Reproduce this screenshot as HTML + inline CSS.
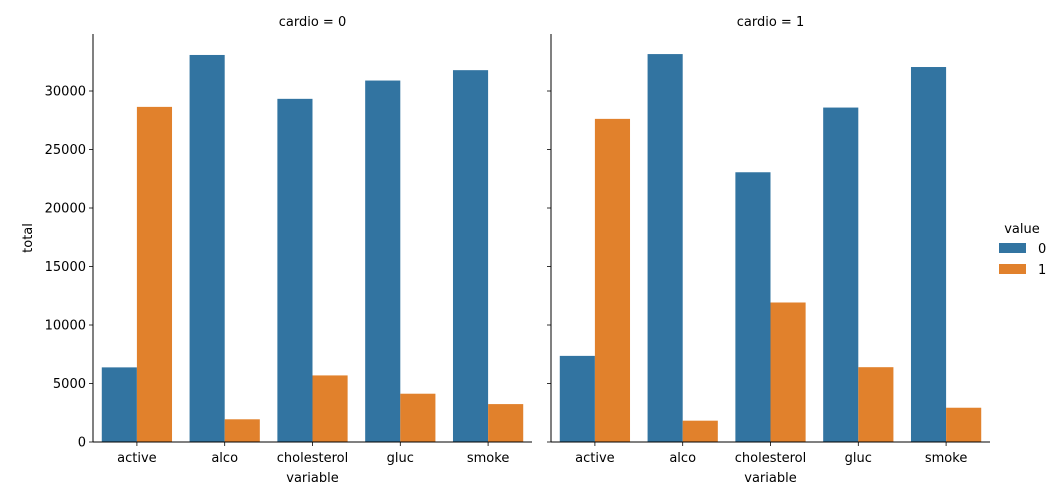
<!DOCTYPE html>
<html><head><meta charset="utf-8"><style>
body{margin:0;background:#fff}
svg{display:block;font-family:"DejaVu Sans","Liberation Sans",sans-serif}
</style></head><body>
<svg id="chart" width="1058" height="500"></svg>
<script>
const categories = ["active","alco","cholesterol","gluc","smoke"];
const panels = ["cardio = 0","cardio = 1"];
const values0_c0 = [6378,33080,29330,30894,31781];
const values1_c0 = [28643,1941,5691,4127,3240];
const values0_c1 = [7361,33156,23055,28585,32050];
const values1_c1 = [27618,1823,11924,6394,2929];
const yTicks = [0,5000,10000,15000,20000,25000,30000];
const legendLabels = ["0","1"];
const colors = ["#3274a1","#e1812c"];

const NS="http://www.w3.org/2000/svg";
const svg=document.getElementById('chart');
function mk(tag,attrs,parent){const e=document.createElementNS(NS,tag);for(const k in attrs)e.setAttribute(k,attrs[k]);(parent||svg).appendChild(e);return e;}
const yTop=34,yBot=442,yMax=34872;
function y(v){return yBot-(v/yMax)*(yBot-yTop);}
const panelX=[93,551],panelW=439;
const series=[[values0_c0,values1_c0],[values0_c1,values1_c1]];
panels.forEach((title,p)=>{
  const x0=panelX[p];
  const g=mk('g',{});
  
  
  const band=panelW/categories.length, bw=band*0.4;
  categories.forEach((c,i)=>{
    const cx=x0+band*(i+0.5);
    [0,1].forEach(s=>{
      const v=series[p][s][i];
      const r=mk('rect',{x:cx-bw+s*bw,y:y(v),width:bw,height:yBot-y(v),fill:colors[s]},g);
      
      
    });
    mk('line',{x1:cx,x2:cx,y1:yBot,y2:yBot+4,stroke:'#000','stroke-width':0.8},g);
    const t=mk('text',{x:cx,y:yBot+20,'text-anchor':'middle','font-size':13},g);
    t.textContent=c;
    
    
  });
  yTicks.forEach(v=>{
    mk('line',{x1:x0-4,x2:x0,y1:y(v),y2:y(v),stroke:'#000','stroke-width':0.8},g);
    if(p===0){
      const t=mk('text',{x:x0-7,y:y(v)+4.5,'text-anchor':'end','font-size':13},g);
      t.textContent=v;
      
      
    }
  });
  mk('line',{x1:x0,x2:x0,y1:yTop,y2:yBot,stroke:'#000','stroke-width':1},g);
  mk('line',{x1:x0,x2:x0+panelW,y1:yBot,y2:yBot,stroke:'#000','stroke-width':1},g);
  const tt=mk('text',{x:x0+panelW/2,y:26,'text-anchor':'middle','font-size':13},g);
  tt.textContent=title;
  
  
  const xl=mk('text',{x:x0+panelW/2,y:482,'text-anchor':'middle','font-size':13},g);
  xl.textContent='variable';
  
  
});
const yl=mk('text',{x:0,y:0,'text-anchor':'middle','font-size':13,transform:'translate(32,238) rotate(-90)'});
yl.textContent='total';


const lg=mk('g',{});


const lt=mk('text',{x:1022,y:233,'text-anchor':'middle','font-size':13},lg);
lt.textContent='value';
legendLabels.forEach((l,i)=>{
  const r=mk('rect',{x:999,y:243+i*21,width:27,height:10,fill:colors[i]},lg);
  
  
  const t=mk('text',{x:1038,y:253+i*21,'font-size':13},lg);
  t.textContent=l;
  
  
});
</script>
</body></html>
